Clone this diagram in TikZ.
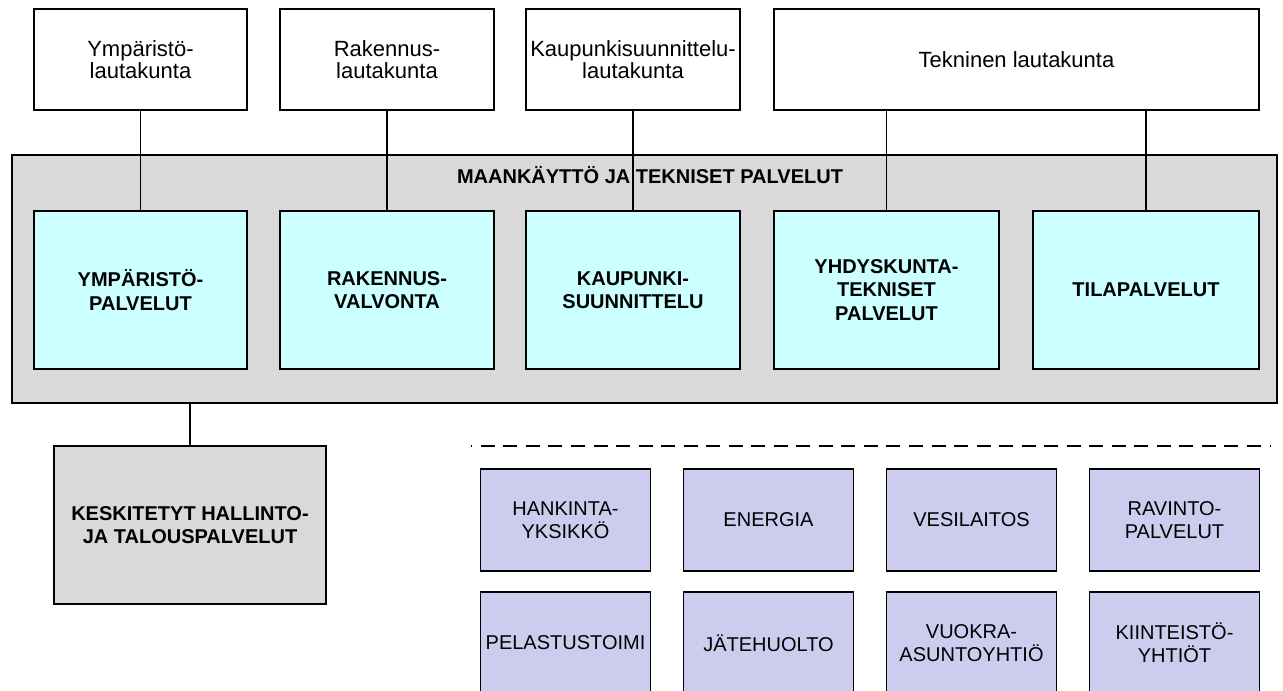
\documentclass[tikz,border=0pt]{standalone}
\usepackage{fontspec}
\setmainfont{Liberation Sans}
\usepackage{xcolor}
\usetikzlibrary{positioning}
\definecolor{mktgray}{HTML}{D9D9D9}
\definecolor{unitcyan}{HTML}{CCFFFF}
\definecolor{extrablue}{HTML}{CCCCEE}

\begin{document}
\begin{tikzpicture}[x=0.75pt,y=-0.75pt,
    board/.style={draw=black,line width=1.1pt,fill=white,minimum height=75.75pt,inner sep=0pt,align=center,font=\fontsize{16.5}{16}\selectfont},
    unit/.style={draw=black,line width=1.1pt,fill=unitcyan,minimum height=118.5pt,inner sep=0pt,align=center,font=\fontsize{15}{17.5}\selectfont\bfseries},
    extra/.style={draw=black,line width=1.1pt,fill=extrablue,minimum width=127.5pt,minimum height=76.5pt,inner sep=0pt,align=center,font=\fontsize{15}{17}\selectfont},
    link/.style={line width=1pt}]
        \useasboundingbox (0,0) rectangle (1283,691);
        \clip (0,0) rectangle (1283,691);

        %frame
        \node[draw=black,line width=1.1pt,fill=mktgray,minimum width=948.75pt,minimum height=186pt] (mkt) at (644.5,279) {};
        \node[font=\fontsize{15}{17}\selectfont\bfseries] (mkttitle) at (650,175) {MAANKÄYTTÖ JA TEKNISET PALVELUT};

        %boards
        \node[board,minimum width=159.75pt] (ymplk) at (140.5,59.5) {Ympäristö-\\lautakunta};
        \node[board,minimum width=160.5pt] (raklk) at (387,59.5) {Rakennus-\\lautakunta};
        \node[board,minimum width=160.5pt] (kaulk) at (633,59.5) {Kaupunkisuunnittelu-\\lautakunta};
        \node[board,minimum width=363.75pt] (teklk) at (1016.5,59.5) {Tekninen lautakunta};

        %units
        \node[unit,minimum width=159.75pt,below=74.7pt of ymplk] (ymppal) {YMPÄRISTÖ-\\PALVELUT};
        \node[unit,minimum width=160.5pt,below=74.7pt of raklk] (rakval) {RAKENNUS-\\VALVONTA};
        \node[unit,minimum width=160.5pt,below=74.7pt of kaulk] (kausuu) {KAUPUNKI-\\SUUNNITTELU};
        \node[unit,minimum width=168.75pt] (yhdpal) at (886.5,290) {YHDYSKUNTA-\\TEKNISET\\PALVELUT};
        \node[unit,minimum width=169.5pt] (tilpal) at (1146,290) {TILAPALVELUT};

        \node[unit,fill=mktgray,minimum width=204pt] (keski) at (190,525) {KESKITETYT HALLINTO-\\JA TALOUSPALVELUT};

        %lines
        \draw[link] (ymplk) -- (ymppal);
        \draw[link] (raklk) -- (rakval);
        \draw[link] (kaulk) -- (kausuu);
        \draw[link] (teklk.south -| yhdpal.north) -- (yhdpal.north);
        \draw[link] (teklk.south -| tilpal.north) -- (tilpal.north);
        \draw[link] (keski.north |- mkt.south) -- (keski.north);

        \coordinate (dashstart) at (471,446);
        \coordinate (dashend) at (1270,446);
        \draw[line width=1.1pt,dash pattern=on 10.5pt off 6.4pt,dash phase=9.5pt] (dashstart) -- (dashend);

        %others
        \node[extra] (hank) at (565.5,520) {HANKINTA-\\YKSIKKÖ};
        \node[extra,right=23.65pt of hank] (ener) {ENERGIA};
        \node[extra,right=23.65pt of ener] (vesi) {VESILAITOS};
        \node[extra,right=23.65pt of vesi] (ravi) {RAVINTO-\\PALVELUT};
        \node[extra,below=14.65pt of hank] (pela) {PELASTUSTOIMI};
        \node[extra,below=14.65pt of ener] (jate) {JÄTEHUOLTO};
        \node[extra,below=14.65pt of vesi] (vuok) {VUOKRA-\\ASUNTOYHTIÖ};
        \node[extra,below=14.65pt of ravi] (kiin) {KIINTEISTÖ-\\YHTIÖT};
\end{tikzpicture}
\end{document}
